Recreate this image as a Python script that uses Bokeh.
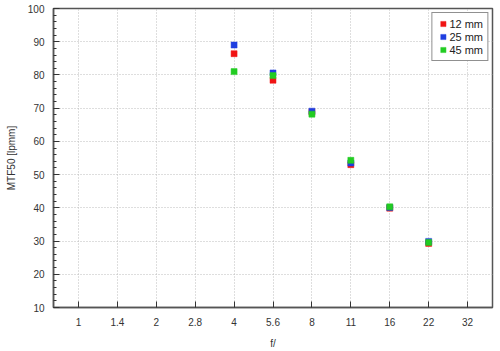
from bokeh.plotting import figure
from bokeh.models import FixedTicker, SingleIntervalTicker, Range1d
from bokeh.embed import file_html
from bokeh.resources import INLINE

f_labels = ["1", "1.4", "2", "2.8", "4", "5.6", "8", "11", "16", "22", "32"]
f_measured = ["4", "5.6", "8", "11", "16", "22"]
mtf_12mm = [86.4, 78.4, 68.8, 53.0, 39.9, 29.3]
mtf_25mm = [89.0, 80.6, 69.1, 53.5, 40.1, 29.9]
mtf_45mm = [81.0, 79.8, 68.2, 54.3, 40.3, 29.6]
series_names = ["12 mm", "25 mm", "45 mm"]
series_colors = ["#f01414", "#1e3ee0", "#22cc22"]

FONT = "Liberation Sans"
TXT = "#333333"

p = figure(width=500, height=351, output_backend="svg", toolbar_location=None,
           x_range=Range1d(0.36, 11.64), y_range=Range1d(10, 100),
           min_border_left=53, min_border_right=8, min_border_top=8, min_border_bottom=43)

xs = [f_labels.index(f) + 1 for f in f_measured]
for name, vals, col in zip(series_names, [mtf_12mm, mtf_25mm, mtf_45mm], series_colors):
    p.scatter(xs, vals, marker="square", size=6, fill_color=col, line_color=col,
              line_width=0.5, legend_label=name)

p.xaxis.ticker = FixedTicker(ticks=list(range(1, len(f_labels) + 1)))
p.xaxis.major_label_overrides = {i + 1: lab for i, lab in enumerate(f_labels)}
p.yaxis.ticker = SingleIntervalTicker(interval=10, num_minor_ticks=5)

p.xaxis.axis_label = "f/"
p.yaxis.axis_label = "MTF50 [lpmm]"

for ax in (p.xaxis[0], p.yaxis[0]):
    ax.axis_line_color = "#555555"
    ax.axis_line_width = 1.5
    ax.major_tick_line_color = "#333333"
    ax.minor_tick_line_color = "#333333"
    ax.major_tick_in = 6
    ax.major_tick_out = 0
    ax.minor_tick_in = 3
    ax.minor_tick_out = 0
    ax.major_label_text_font = FONT
    ax.major_label_text_font_size = "10px"
    ax.major_label_text_color = TXT
    ax.axis_label_text_font = FONT
    ax.axis_label_text_font_size = "10px"
    ax.axis_label_text_font_style = "normal"
    ax.axis_label_text_color = TXT

p.xaxis.major_label_standoff = 10
p.xaxis.axis_label_standoff = 9
p.yaxis.major_label_standoff = 9
p.yaxis.axis_label_standoff = 8

for g in (p.xgrid[0], p.ygrid[0]):
    g.grid_line_color = "#bdbdbd"
    g.grid_line_dash = "1 2"
    g.grid_line_width = 1

p.outline_line_color = "#555555"
p.outline_line_width = 1.5
p.background_fill_color = "white"
p.border_fill_color = "white"

lg = p.legend[0]
lg.location = "top_right"
lg.margin = 4
lg.padding = 4
lg.spacing = 0
lg.glyph_width = 13
lg.glyph_height = 13
lg.label_height = 13
lg.label_standoff = -2
lg.label_text_font = FONT
lg.label_text_font_size = "11px"
lg.label_text_color = "#222222"
lg.border_line_color = "#222222"
lg.border_line_width = 1
lg.background_fill_alpha = 1

open("out.html", "w").write(file_html(p, INLINE))
